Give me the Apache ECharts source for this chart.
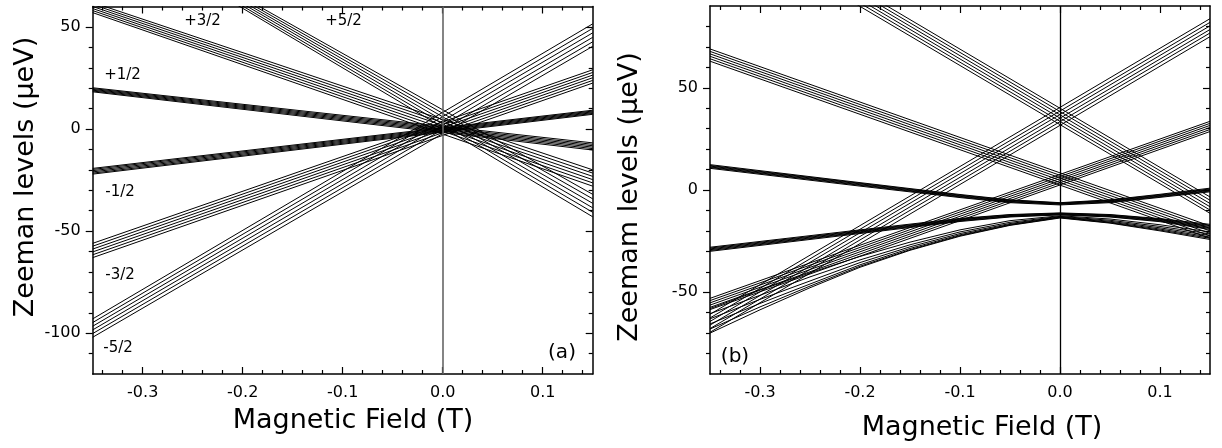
<!DOCTYPE html>
<html><head><meta charset="utf-8">
<script src="https://cdn.jsdelivr.net/npm/echarts@6/dist/echarts.min.js"></script>
<style>html,body{margin:0;padding:0;background:#fff}#c{width:1222px;height:448px}</style>
</head><body><div id="c"></div>
<script>
// ---------- axes / ticks ----------
const X_RANGE = [-0.35, 0.15];
const X_TICKS = [-0.3, -0.2, -0.1, 0.0, 0.1];
const X_MINOR = [-0.34,-0.32,-0.28,-0.26,-0.24,-0.22,-0.18,-0.16,-0.14,-0.12,-0.08,-0.06,-0.04,-0.02,0.02,0.04,0.06,0.08,0.12,0.14];
const A_Y_RANGE = [-120, 60];
const A_Y_TICKS = [-100, -50, 0, 50];
const A_Y_MINOR = [-110,-90,-80,-70,-60,-40,-30,-20,-10,10,20,30,40];
const B_Y_RANGE = [-90, 90];
const B_Y_TICKS = [-50, 0, 50];
const B_Y_MINOR = [-80,-70,-60,-40,-30,-20,-10,10,20,30,40,60,70,80];

// ---------- panel (a): straight bands, y at B=-0.35 (L) and B=0.15 (R) ----------
const A_P52_L = [106.0, 105.4, 104.8, 104.2, 103.5, 102.9];
const A_P52_R = [-32.0, -34.2, -36.4, -38.6, -40.8, -43.0];
const A_M52_L = [-93.0, -94.8, -96.6, -98.4, -100.2, -102.0];
const A_M52_R = [51.5, 49.3, 47.1, 44.9, 42.7, 40.5];
const A_P32_L = [62.0, 61.0, 60.0, 59.0, 58.0, 57.0];
const A_P32_R = [-20.0, -21.6, -23.2, -24.8, -26.4, -28.0];
const A_M32_L = [-56.0, -57.4, -58.8, -60.2, -61.6, -63.0];
const A_M32_R = [29.0, 27.7, 26.4, 25.1, 23.8, 22.5];
const A_P12_L = [20.2, 19.8, 19.4, 19.0, 18.6, 18.2];
const A_P12_R = [-6.8, -7.5, -8.2, -8.9, -9.6, -10.3];
const A_M12_L = [-19.3, -19.8, -20.4, -21.0, -21.6, -22.1];
const A_M12_R = [9.2, 8.8, 8.4, 8.0, 7.6, 7.2];
const A_LABELS = ['+3/2', '+5/2', '+1/2', '-1/2', '-3/2', '-5/2'];

// ---------- panel (b) ----------
const B_P52_L = [141.2, 139.6, 138.0, 136.4, 134.8, 133.2];
const B_P52_R = [-3.4, -5.0, -6.6, -8.2, -9.8, -11.4];
const B_M52_L = [-60.8, -62.6, -64.3, -66.1, -67.8, -69.6];
const B_M52_R = [83.8, 82.0, 80.3, 78.5, 76.8, 75.0];
const B_P32_L = [69.0, 67.8, 66.6, 65.4, 64.2, 63.0];
const B_P32_R = [-17.6, -18.8, -20.0, -21.2, -22.4, -23.6];
const B_M32_L = [-53.0, -54.1, -55.2, -56.3, -57.4, -58.5];
const B_M32_R = [33.6, 32.6, 31.6, 30.6, 29.6, 28.6];
// +/-1/2 anticrossing branches
const B_HALF_X = [-0.35, -0.2, -0.1, -0.05, 0.0, 0.05, 0.1, 0.15];
const B_UPPER = [
  [12.4, 3.6, -2.2, -4.8, -6.2, -4.8, -2.1, 0.9],
  [12.0, 3.3, -2.5, -5.0, -6.4, -5.0, -2.4, 0.5],
  [11.7, 3.0, -2.8, -5.3, -6.6, -5.3, -2.7, 0.2],
  [11.3, 2.6, -3.1, -5.6, -6.8, -5.6, -3.0, -0.2],
  [11.0, 2.3, -3.4, -5.9, -7.0, -5.9, -3.3, -0.5],
  [10.6, 1.9, -3.7, -6.2, -7.3, -6.2, -3.6, -0.9]
];
const B_LOWER = [
  [-28.0, -19.5, -13.9, -12.0, -11.2, -12.0, -14.0, -16.8],
  [-28.4, -19.9, -14.2, -12.2, -11.4, -12.2, -14.3, -17.3],
  [-28.8, -20.2, -14.5, -12.5, -11.6, -12.5, -14.6, -17.8],
  [-29.2, -20.6, -14.8, -12.7, -11.8, -12.7, -14.9, -18.3],
  [-29.6, -20.9, -15.1, -13.0, -12.0, -13.0, -15.2, -18.8],
  [-30.0, -21.3, -15.4, -13.2, -12.2, -13.2, -15.5, -19.3]
];
// curved lower bundle
const B_ARC_X = [-0.35, -0.3, -0.25, -0.2, -0.15, -0.1, -0.05, 0.0, 0.05, 0.1, 0.15];
const B_ARC = [
  [-58.0, -49.0, -40.5, -32.5, -25.5, -19.5, -15.0, -12.6, -14.2, -17.0, -20.5],
  [-60.5, -51.5, -42.5, -34.2, -26.8, -20.5, -15.8, -12.9, -14.8, -17.8, -21.5],
  [-63.0, -53.5, -44.5, -35.5, -27.8, -21.3, -16.4, -13.1, -15.3, -18.5, -22.3],
  [-65.5, -55.5, -46.0, -36.6, -28.6, -21.9, -16.8, -13.3, -15.7, -19.1, -23.0],
  [-68.0, -57.2, -47.0, -37.3, -29.2, -22.3, -17.1, -13.5, -16.0, -19.6, -23.6],
  [-70.0, -58.6, -47.8, -37.8, -29.5, -22.6, -17.3, -13.7, -16.2, -20.0, -24.2]
];

// ---------- build ----------
const FONT = 'DejaVu Sans';
function straight(L, R) { return L.map((v, i) => [[X_RANGE[0], v], [X_RANGE[1], R[i]]]); }
function curves(xs, lines) { return lines.map(ys => ys.map((y, i) => [xs[i], y])); }

const TICK_STYLE = {color: '#000', width: 1.2};
const AXIS_LINE = {onZero: false, lineStyle: {color: '#000', width: 1.5}};
const NO_LINE = {show: false, onZero: false};

function xAxesFor(g) {
  const base = {gridIndex: g, type: 'value', min: X_RANGE[0], max: X_RANGE[1], splitLine: {show: false}};
  return [
    Object.assign({}, base, {position: 'bottom', axisLine: AXIS_LINE,
      axisTick: {customValues: X_TICKS, inside: true, length: 7, lineStyle: TICK_STYLE},
      axisLabel: {customValues: X_TICKS, margin: 11, fontSize: 16, fontFamily: FONT, color: '#000',
        formatter: v => v.toFixed(1)}}),
    Object.assign({}, base, {position: 'bottom', axisLine: NO_LINE,
      axisTick: {customValues: X_MINOR, inside: true, length: 4, lineStyle: TICK_STYLE},
      axisLabel: {show: false}}),
    Object.assign({}, base, {position: 'top', axisLine: AXIS_LINE,
      axisTick: {customValues: X_TICKS, inside: true, length: 7, lineStyle: TICK_STYLE},
      axisLabel: {show: false}}),
    Object.assign({}, base, {position: 'top', axisLine: NO_LINE,
      axisTick: {customValues: X_MINOR, inside: true, length: 4, lineStyle: TICK_STYLE},
      axisLabel: {show: false}})
  ];
}
function yAxesFor(g, range, ticks, minor) {
  const base = {gridIndex: g, type: 'value', min: range[0], max: range[1], splitLine: {show: false}};
  return [
    Object.assign({}, base, {position: 'left', axisLine: AXIS_LINE,
      axisTick: {customValues: ticks, inside: false, length: 7, lineStyle: TICK_STYLE},
      axisLabel: {customValues: ticks, margin: 12, fontSize: 16, fontFamily: FONT, color: '#000'}}),
    Object.assign({}, base, {position: 'left', axisLine: NO_LINE,
      axisTick: {customValues: minor, inside: false, length: 4, lineStyle: TICK_STYLE},
      axisLabel: {show: false}}),
    Object.assign({}, base, {position: 'right', axisLine: AXIS_LINE,
      axisTick: {customValues: ticks, inside: true, length: 7, lineStyle: TICK_STYLE},
      axisLabel: {show: false}}),
    Object.assign({}, base, {position: 'right', axisLine: NO_LINE,
      axisTick: {customValues: minor, inside: true, length: 4, lineStyle: TICK_STYLE},
      axisLabel: {show: false}})
  ];
}

const series = [];
function addLines(lines, g) {
  lines.forEach(d => series.push({
    type: 'line', xAxisIndex: g * 4, yAxisIndex: g * 4, data: d, symbol: 'none',
    lineStyle: {color: '#000', width: 1}, silent: true, animation: false, clip: true
  }));
}
[[A_P52_L, A_P52_R], [A_M52_L, A_M52_R], [A_P32_L, A_P32_R], [A_M32_L, A_M32_R],
 [A_P12_L, A_P12_R], [A_M12_L, A_M12_R]].forEach(p => addLines(straight(p[0], p[1]), 0));
[[B_P52_L, B_P52_R], [B_M52_L, B_M52_R], [B_P32_L, B_P32_R], [B_M32_L, B_M32_R]]
  .forEach(p => addLines(straight(p[0], p[1]), 1));
addLines(curves(B_HALF_X, B_UPPER), 1);
addLines(curves(B_HALF_X, B_LOWER), 1);
addLines(curves(B_ARC_X, B_ARC), 1);

// zero-field markers
[[0, '#666', 1.6], [1, '#000', 1.3]].forEach(([g, col, w]) => series.push({
  type: 'line', xAxisIndex: g * 4, yAxisIndex: g * 4, data: [], silent: true, animation: false,
  markLine: {symbol: 'none', silent: true, animation: false, label: {show: false},
    lineStyle: {color: col, width: w, type: 'solid'}, data: [{xAxis: 0}]}
}));

function txt(x, y, s, size, rot) {
  return {type: 'text', x: x, y: y, rotation: rot || 0, silent: true,
    style: {text: s, font: size + 'px "' + FONT + '"', fill: '#000', align: 'center', verticalAlign: 'middle'}};
}
const labelPos = [[202.5, 21], [343.5, 21], [122.5, 75], [120, 192], [120, 275], [118, 348]];
const graphics = A_LABELS.map((s, i) => txt(labelPos[i][0], labelPos[i][1], s, 15));
graphics.push(txt(562, 353, '(a)', 20), txt(735, 357, '(b)', 20));
graphics.push(txt(353, 421, 'Magnetic Field (T)', 27), txt(982, 428, 'Magnetic Field (T)', 27));
graphics.push(txt(26, 177, 'Zeeman levels (\u03bceV)', 27, Math.PI / 2));
graphics.push(txt(630, 197, 'Zeemam levels (\u03bceV)', 27, Math.PI / 2));

const chart = echarts.init(document.getElementById('c'), null, {renderer: 'canvas'});
chart.setOption({
  animation: false,
  backgroundColor: '#fff',
  grid: [
    {left: 92.7, top: 6.5, width: 500, height: 367.5, containLabel: false},
    {left: 710, top: 6, width: 500, height: 368, containLabel: false}
  ],
  xAxis: xAxesFor(0).concat(xAxesFor(1)),
  yAxis: yAxesFor(0, A_Y_RANGE, A_Y_TICKS, A_Y_MINOR).concat(yAxesFor(1, B_Y_RANGE, B_Y_TICKS, B_Y_MINOR)),
  series: series,
  graphic: graphics
});
</script></body></html>
